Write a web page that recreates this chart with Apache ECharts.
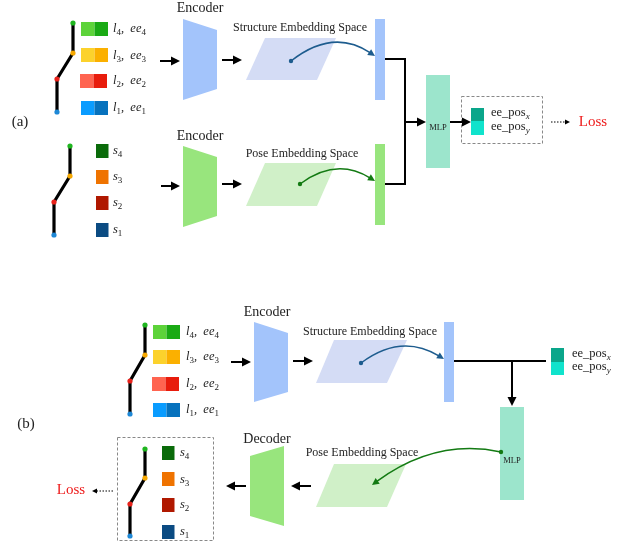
<!DOCTYPE html>
<html><head><meta charset="utf-8">
<script src="https://cdn.jsdelivr.net/npm/echarts/dist/echarts.min.js"></script>
<style>html,body{margin:0;padding:0;background:#fff}#c{width:622px;height:546px}</style>
</head><body><div id="c"></div>
<script>
// ---- diagram data (diagram units = reference pixels) ----
const panelLabels = [['(a)', 20, 122], ['(b)', 26, 424]];
const skeletons = [
  [[73, 23], [73, 53], [57, 79], [57, 112]],
  [[70, 146], [70, 176], [54, 202], [54, 235]],
  [[145, 325], [145, 355], [130, 381], [130, 414]],
  [[145, 449], [145, 478], [130, 504], [130, 536]]
];
const linkRows = [[81, 22], [81, 48], [80, 74], [81, 101], [153, 325], [153, 350], [152, 377], [153, 403]];
const linkIds = [4, 3, 2, 1, 4, 3, 2, 1];
const linkLabelPos = [[113, 29], [113, 56], [113, 81], [113, 108], [186, 332], [186, 357], [186, 384], [186, 410]];
const stateRows = [[96, 144], [96, 170], [96, 196], [96, 223], [162, 446], [162, 472], [162, 498], [162, 525]];
const stateIds = [4, 3, 2, 1, 4, 3, 2, 1];
const stateLabelPos = [[113, 151], [113, 177], [113, 203], [113, 230], [180, 453], [180, 480], [180, 505], [180, 532]];
const coders = [
  [[183, 19], [217, 30], [217, 89], [183, 100]],
  [[183, 146], [217, 157], [217, 216], [183, 227]],
  [[254, 322], [288, 333], [288, 392], [254, 402]],
  [[250, 456], [284, 446], [284, 526], [250, 516]]
];
const coderKinds = ['struct', 'pose', 'struct', 'pose'];
const coderTitles = [['Encoder', 200, 8], ['Encoder', 200, 136], ['Encoder', 267, 312], ['Decoder', 267, 439]];
const spaces = [
  [[265, 38], [336, 38], [317, 80], [246, 80]],
  [[265, 163], [336, 163], [317, 206], [246, 206]],
  [[334, 340], [407, 340], [387, 383], [316, 383]],
  [[334, 464], [406, 464], [387, 507], [316, 507]]
];
const spaceKinds = ['struct', 'pose', 'struct', 'pose'];
const spaceTitles = [['Structure Embedding Space', 300, 28], ['Pose Embedding Space', 302, 154], ['Structure Embedding Space', 370, 332], ['Pose Embedding Space', 362, 453]];
const vectors = [[375, 19, 385, 100], [375, 144, 385, 225], [444, 322, 454, 402]];
const vectorKinds = ['struct', 'pose', 'struct'];
const mlpBoxes = [[426, 75, 450, 168], [500, 407, 524, 500]];
const mlpLabels = [['MLP', 438, 128], ['MLP', 512, 461]];
const outputCells = [[471, 108, 484, 121, 135], [551, 348, 564, 362, 375]];
const outputLabels = [['ee_pos', 'x', 491, 113], ['ee_pos', 'y', 491, 127], ['ee_pos', 'x', 572, 354], ['ee_pos', 'y', 572, 367]];
const lossLabels = [['Loss', 593, 122], ['Loss', 71, 490]];
const solidArrows = [
  [[160, 61], [180, 61]], [[222, 60], [242, 60]], [[161, 186], [180, 186]], [[222, 184], [242, 184]],
  [[405, 122], [426, 122]], [[450, 122], [471, 122]],
  [[231, 362], [251, 362]], [[293, 361], [313, 361]], [[512, 361], [512, 406]],
  [[311, 486], [291, 486]], [[246, 486], [226, 486]]
];
const connectors = [
  [[385, 59], [405, 59], [405, 184], [385, 184]],
  [[454, 361], [546, 361]]
];
const dottedArrows = [[[551, 122], [570, 122]], [[113, 491], [92, 491]]];
const dashedBoxes = [[461, 96, 542, 143], [117, 437, 213, 540]];
const curves = [
  [[291, 61], [333, 28], [375, 56]],
  [[300, 184], [336, 157], [375, 181]],
  [[361, 363], [401, 333], [444, 359]],
  [[501, 452], [436, 438], [372, 485]]
];
const curveKinds = ['struct', 'pose', 'struct', 'pose'];

// ---- styles ----
const jointColors = ['#1fb51f', '#f6a800', '#e8221b', '#1e88d6'];
const linkColors = { 4: ['#5dd33a', '#1aaa14'], 3: ['#fcd22c', '#fbb000'], 2: ['#ff6450', '#e81c0c'], 1: ['#0a9cff', '#0772bd'] };
const stateColors = { 4: '#0a6b0a', 3: '#ef7300', 2: '#b01800', 1: '#0b4b82' };
const kindFill = { struct: '#a3c4fb', pose: '#98e57d' };
const spaceFill = { struct: '#d4dcf5', pose: '#d0f0c8' };
const curveColor = { struct: '#1d5c8e', pose: '#137a13' };
const SERIF = "'Liberation Serif', 'DejaVu Serif', serif";
const INK = '#222222';

function head(api, from, to, color, len, half) {
  const a = api.coord(from), b = api.coord(to);
  const dx = b[0] - a[0], dy = b[1] - a[1], L = Math.hypot(dx, dy), ux = dx / L, uy = dy / L;
  const bx = b[0] - ux * len, by = b[1] - uy * len;
  return { type: 'polygon', shape: { points: [b, [bx - uy * half, by + ux * half], [bx + uy * half, by - ux * half]] }, style: { fill: color } };
}
function base(api, from, to, len) {
  const a = api.coord(from), b = api.coord(to);
  const dx = b[0] - a[0], dy = b[1] - a[1], L = Math.hypot(dx, dy);
  return [b[0] - dx / L * (len - 1), b[1] - dy / L * (len - 1)];
}
function rectEl(api, x1, y1, x2, y2, fill) {
  const p = api.coord([x1, y1]), q = api.coord([x2, y2]);
  return { type: 'rect', shape: { x: p[0], y: p[1], width: q[0] - p[0], height: q[1] - p[1] }, style: { fill } };
}
function idx(arr) { return arr.map((_, i) => [i]); }
function cs(name, data, fn, z) {
  return { type: 'custom', name, coordinateSystem: 'cartesian2d', data: idx(data), clip: false, silent: true, z: z || 2,
    renderItem: (p, api) => fn(p.dataIndex, api) };
}
const subRich = (italicMain) => ({
  m: { fontFamily: SERIF, fontSize: 12.5, fontStyle: italicMain ? 'italic' : 'normal', lineHeight: 16, fill: INK },
  s: { fontFamily: SERIF, fontSize: 9, fontStyle: italicMain ? 'normal' : 'italic', lineHeight: 8, verticalAlign: 'bottom', fill: INK },
  si: { fontFamily: SERIF, fontSize: 9, fontStyle: 'italic', lineHeight: 8, verticalAlign: 'bottom', fill: INK }
});
function textEl(api, str, x, y, opts) {
  const p = api.coord([x, y]);
  return { type: 'text', style: Object.assign({ text: str, x: p[0], y: p[1], fill: INK, fontFamily: SERIF, fontSize: 12, align: 'center', verticalAlign: 'middle' }, opts || {}) };
}

const series = [
  cs('spaces', spaces, (i, api) => ({ type: 'polygon', shape: { points: spaces[i].map(p => api.coord(p)) }, style: { fill: spaceFill[spaceKinds[i]] } }), 1),
  cs('coders', coders, (i, api) => ({ type: 'polygon', shape: { points: coders[i].map(p => api.coord(p)) }, style: { fill: kindFill[coderKinds[i]] } })),
  cs('vectors', vectors, (i, api) => rectEl(api, ...vectors[i], kindFill[vectorKinds[i]])),
  cs('mlp', mlpBoxes, (i, api) => rectEl(api, ...mlpBoxes[i], '#9ce5cc')),
  cs('outputs', outputCells, (i, api) => {
    const c = outputCells[i];
    return { type: 'group', children: [rectEl(api, c[0], c[1], c[2], c[3], '#0aa68a'), rectEl(api, c[0], c[3], c[2], c[4], '#10e3cc')] };
  }),
  cs('links', linkRows, (i, api) => {
    const [x, y] = linkRows[i], col = linkColors[linkIds[i]];
    return { type: 'group', children: [rectEl(api, x, y, x + 13.5, y + 14, col[0]), rectEl(api, x + 13.5, y, x + 27, y + 14, col[1])] };
  }),
  cs('states', stateRows, (i, api) => {
    const [x, y] = stateRows[i];
    return rectEl(api, x, y, x + 12.5, y + 14, stateColors[stateIds[i]]);
  }),
  cs('skeletons', skeletons, (i, api) => {
    const pts = skeletons[i].map(p => api.coord(p));
    const ch = [{ type: 'polyline', shape: { points: pts }, style: { stroke: '#000', lineWidth: 3.2, fill: null, lineJoin: 'round' } }];
    pts.forEach((p, k) => ch.push({ type: 'circle', shape: { cx: p[0], cy: p[1], r: 2.6 }, style: { fill: jointColors[k] } }));
    return { type: 'group', children: ch };
  }, 3),
  cs('connectors', connectors, (i, api) => ({ type: 'polyline', shape: { points: connectors[i].map(p => api.coord(p)) }, style: { stroke: '#000', lineWidth: 2, fill: null } })),
  cs('arrows', solidArrows, (i, api) => {
    const [f, t] = solidArrows[i];
    return { type: 'group', children: [
      { type: 'line', shape: (() => { const a = api.coord(f), b = base(api, f, t, 9); return { x1: a[0], y1: a[1], x2: b[0], y2: b[1] }; })(), style: { stroke: '#000', lineWidth: 2 } },
      head(api, f, t, '#000', 9, 4.5)] };
  }, 4),
  cs('dotted', dottedArrows, (i, api) => {
    const [f, t] = dottedArrows[i];
    const a = api.coord(f), b = base(api, f, t, 5);
    return { type: 'group', children: [
      { type: 'line', shape: { x1: a[0], y1: a[1], x2: b[0], y2: b[1] }, style: { stroke: '#000', lineWidth: 1, lineDash: [1.5, 1.5] } },
      head(api, f, t, '#000', 5, 2.5)] };
  }),
  cs('boxes', dashedBoxes, (i, api) => {
    const [x1, y1, x2, y2] = dashedBoxes[i];
    const p = api.coord([x1, y1]), q = api.coord([x2, y2]);
    return { type: 'rect', shape: { x: p[0] + 0.5, y: p[1] + 0.5, width: q[0] - p[0], height: q[1] - p[1] }, style: { fill: null, stroke: '#888', lineWidth: 1, lineDash: [3, 2] } };
  }),
  cs('curves', curves, (i, api) => {
    const [s, c, e] = curves[i], col = curveColor[curveKinds[i]];
    const a = api.coord(s), cp = api.coord(c), b = base(api, c, e, 7);
    return { type: 'group', children: [
      { type: 'bezierCurve', shape: { x1: a[0], y1: a[1], cpx1: cp[0], cpy1: cp[1], x2: b[0], y2: b[1] }, style: { stroke: col, lineWidth: 1.5, fill: null } },
      { type: 'circle', shape: { cx: a[0], cy: a[1], r: 2.2 }, style: { fill: col } },
      head(api, c, e, col, 7, 3.5)] };
  }, 4),
  // texts
  cs('panelLabels', panelLabels, (i, api) => textEl(api, panelLabels[i][0], panelLabels[i][1], panelLabels[i][2], { fontSize: 15 }), 5),
  cs('coderTitles', coderTitles, (i, api) => textEl(api, coderTitles[i][0], coderTitles[i][1], coderTitles[i][2], { fontSize: 14 }), 5),
  cs('spaceTitles', spaceTitles, (i, api) => textEl(api, spaceTitles[i][0], spaceTitles[i][1], spaceTitles[i][2], { fontSize: 12 }), 5),
  cs('mlpLabels', mlpLabels, (i, api) => textEl(api, mlpLabels[i][0], mlpLabels[i][1], mlpLabels[i][2], { fontSize: 8.5 }), 5),
  cs('lossLabels', lossLabels, (i, api) => textEl(api, lossLabels[i][0], lossLabels[i][1], lossLabels[i][2], { fontSize: 15, fill: '#ee1c1c' }), 5),
  cs('linkLabels', linkLabelPos, (i, api) => {
    const k = linkIds[i];
    return textEl(api, `{m|l}{s|${k}}{m|,  ee}{s|${k}}`, linkLabelPos[i][0], linkLabelPos[i][1], { align: 'left', rich: subRich(true) });
  }, 5),
  cs('stateLabels', stateLabelPos, (i, api) => {
    const k = stateIds[i];
    return textEl(api, `{m|s}{s|${k}}`, stateLabelPos[i][0], stateLabelPos[i][1], { align: 'left', rich: subRich(true) });
  }, 5),
  cs('outputLabels', outputLabels, (i, api) => {
    const o = outputLabels[i];
    return textEl(api, `{m|${o[0]}}{si|${o[1]}}`, o[2], o[3], { align: 'left', rich: subRich(false) });
  }, 5)
];

const chart = echarts.init(document.getElementById('c'), null, { renderer: 'canvas' });
chart.setOption({
  animation: false,
  backgroundColor: '#ffffff',
  grid: { left: 0, right: 0, top: 0, bottom: 0, containLabel: false },
  xAxis: { type: 'value', min: 0, max: 622, show: false },
  yAxis: { type: 'value', min: 0, max: 546, inverse: true, show: false },
  series
});
</script></body></html>
